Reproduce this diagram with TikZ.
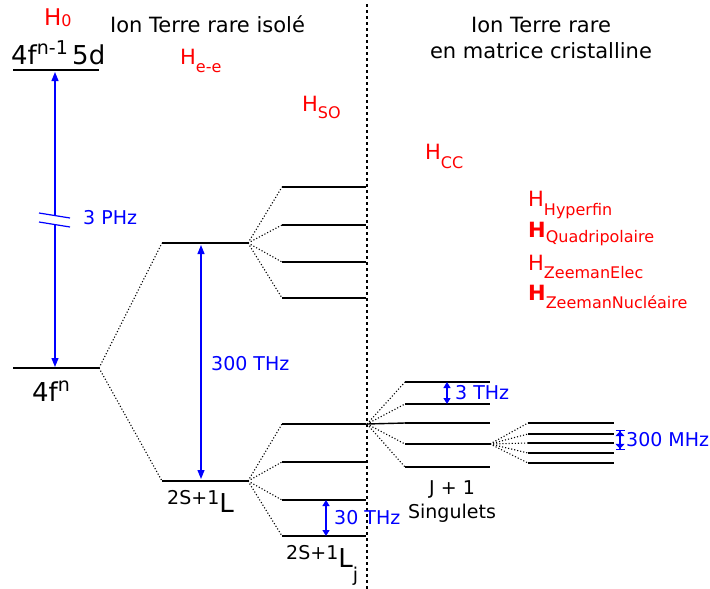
\documentclass[tikz,border=0pt]{standalone}
\usepackage{fontspec}
\setmainfont{DejaVu Sans}
\usetikzlibrary{arrows.meta}
\begin{document}
\begin{tikzpicture}[x=1pt,y=-1pt,
  level/.style={line width=1.4pt},
  split/.style={line width=1.1pt,dotted},
  sep/.style={line width=1.6pt,dash pattern=on 2.5pt off 3.5pt},
  gap/.style={blue,line width=1.2pt},
  redlab/.style={text=red,font=\fontsize{21}{25}\selectfont,inner sep=0pt,anchor=base west},
  bluelab/.style={text=blue,font=\fontsize{19}{22}\selectfont,inner sep=0pt,anchor=west},
  blacklab/.style={font=\fontsize{21}{25}\selectfont,inner sep=0pt},
  bigtip/.style={-{Triangle[length=9pt,width=7pt]}},
  smalltips/.style={{Triangle[length=6pt,width=7pt]}-{Triangle[length=6pt,width=7pt]}},
  bartips/.style={{Bar[width=9pt,line width=1.2pt,sep=0pt]Triangle[length=5pt,width=9pt]}-{Triangle[length=5pt,width=9pt]Bar[width=9pt,line width=1.2pt,sep=0pt]}}
]
\useasboundingbox (0,0) rectangle (710,589);

% separator
\coordinate (sepT) at (367,4);
\coordinate (sepB) at (367,589);
\draw[sep] (sepT) -- (sepB);

% titles
\node[blacklab,anchor=base] (t1) at (207.5,32) {Ion Terre rare isolé};
\node[blacklab,anchor=base] (t2a) at (541,32) {Ion Terre rare};
\node[blacklab,anchor=base] (t2b) at (541,58) {en matrice cristalline};

% Hamiltonians
\newcommand\subsz{\fontsize{16}{19}\selectfont}
\node[redlab,font=\fontsize{23}{27}\selectfont] (h0) at (44,25) {H\raisebox{-1pt}{\subsz 0}};
\node[redlab] (hee) at (180,64) {H\raisebox{-8pt}{\subsz e-e}};
\node[redlab] (hso) at (302,111) {H\raisebox{-7pt}{\subsz SO}};
\node[redlab] (hcc) at (425,159) {H\raisebox{-9pt}{\subsz CC}};
\node[redlab] (hhf) at (528,206) {H\raisebox{-9pt}{\subsz Hyperfin}};
\node[redlab] (hq) at (528,237) {\bfseries H\mdseries\raisebox{-5pt}{\subsz Quadripolaire}};
\node[redlab] (hze) at (528,270) {H\raisebox{-8pt}{\subsz ZeemanElec}};
\node[redlab] (hzn) at (528,300) {\bfseries H\mdseries\raisebox{-8pt}{\subsz ZeemanNucléaire}};

% 4f^{n-1}5d level
\coordinate (a1) at (13,70);
\coordinate (a2) at (99,70);
\draw[level] (a1) -- (a2);
\node[inner sep=0pt,anchor=base west,font=\fontsize{26}{30}\selectfont] (l5d) at (11,64) {4f\raisebox{10pt}{\fontsize{19}{22}\selectfont n-1}\,5d};

% 4f^n level
\coordinate (b1) at (13,368);
\coordinate (b2) at (99,368);
\draw[level] (b1) -- (b2);
\node[inner sep=0pt,anchor=base west,font=\fontsize{26}{30}\selectfont] (l4f) at (32,401) {4f\raisebox{10pt}{\fontsize{19}{22}\selectfont n}};

% 3 PHz arrow with break
\coordinate (pA) at (55,72);
\coordinate (pB) at (55,367);
\coordinate (pg1) at (55,215);
\coordinate (pg2) at (55,224);
\draw[gap,{Triangle[length=9pt,width=7pt]}-] (pA) -- (pg1);
\draw[gap,bigtip] (pg2) -- (pB);
\coordinate (k1a) at (39,213); \coordinate (k1b) at (70,218);
\coordinate (k2a) at (39,222); \coordinate (k2b) at (70,227);
\draw[gap] (k1a) -- (k1b);
\draw[gap] (k2a) -- (k2b);
\node[bluelab] (phz) at (83,218) {3 PHz};

% second column levels
\coordinate (c1) at (162,243); \coordinate (c2) at (248,243);
\coordinate (d1) at (162,481); \coordinate (d2) at (248,481);
\draw[level] (c1) -- (c2);
\draw[level] (d1) -- (d2);
\draw[split] (b2) -- (c1);
\draw[split] (b2) -- (d1);
\node[inner sep=0pt,anchor=base west,font=\fontsize{19}{22}\selectfont] (lL) at (167,504) {2S+1\raisebox{-8pt}{\fontsize{26}{30}\selectfont L}};

% 300 THz
\coordinate (tA) at (201,245);
\coordinate (tB) at (201,479);
\draw[gap,{Triangle[length=9pt,width=7pt]}-{Triangle[length=9pt,width=7pt]}] (tA) -- (tB);
\node[bluelab] (thz) at (211,364) {300 THz};

% spin-orbit splitting (upper)
\foreach \y [count=\i] in {187,225,262,298}{
  \coordinate (u\i a) at (282,\y);
  \coordinate (u\i b) at (366,\y);
  \draw[level] (u\i a) -- (u\i b);
  \draw[split] (c2) -- (u\i a);
}
% spin-orbit splitting (lower)
\foreach \y [count=\i] in {424,462,500,536}{
  \coordinate (w\i a) at (282,\y);
  \coordinate (w\i b) at (366,\y);
  \draw[level] (w\i a) -- (w\i b);
  \draw[split] (d2) -- (w\i a);
}
\draw[gap,smalltips] (w3a -| 326,0) -- (w4a -| 326,0);
\node[bluelab] (t30) at (334,518) {30 THz};
\node[inner sep=0pt,anchor=base west,font=\fontsize{19}{22}\selectfont] (lLj) at (286,559) {2S+1\raisebox{-8pt}{\fontsize{26}{30}\selectfont L}\raisebox{-22pt}{\fontsize{19}{22}\selectfont j}};

% crystal field
\coordinate (cf) at (367,424);
\foreach \y [count=\i] in {382,404,423,444,467}{
  \coordinate (s\i a) at (405,\y);
  \coordinate (s\i b) at (490,\y);
  \draw[level] (s\i a) -- (s\i b);
}
\draw[level] (cf) -- (s3a);
\draw[split] (cf) -- (s1a);
\draw[split] (cf) -- (s2a);
\draw[split] (cf) -- (s4a);
\draw[split] (cf) -- (s5a);
\coordinate (e1) at (447,382);
\coordinate (e2) at (447,404);
\draw[gap,smalltips] (e1) -- (e2);
\node[bluelab] (t3) at (455,393) {3 THz};
\node[blacklab,font=\fontsize{19}{22}\selectfont,anchor=base] (j1) at (452,494) {J + 1};
\node[blacklab,font=\fontsize{19}{22}\selectfont,anchor=base] (sing) at (452,518) {Singulets};

% hyperfine
\foreach \y [count=\i] in {423,434,443,453,463}{
  \coordinate (h\i a) at (528,\y);
  \coordinate (h\i b) at (614,\y);
  \draw[level] (h\i a) -- (h\i b);
  \draw[split] (s4b) -- (h\i a);
}
\coordinate (m1) at (620,430);
\coordinate (m2) at (620,450);
\draw[gap,bartips] (m1) -- (m2);
\node[bluelab] (t300) at (626,440) {300 MHz};
\end{tikzpicture}
\end{document}
